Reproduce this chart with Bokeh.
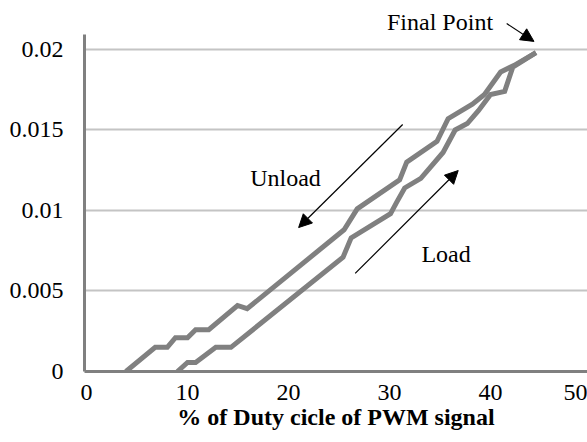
from bokeh.plotting import figure
from bokeh.models import Range1d, FixedTicker, CustomJSTickFormatter, Label, Arrow, NormalHead
from bokeh.embed import file_html
from bokeh.resources import INLINE

# ---- data ----
unload_x = [3.9, 6.8, 8.0, 8.8, 10.0, 10.8, 12.1, 14.95, 15.9, 25.5, 26.8, 31.0, 31.7, 34.7, 35.8, 38.2, 39.4, 41.0, 42.3, 44.5]
unload_y = [0.0, 0.0015, 0.0015, 0.0021, 0.0021, 0.0026, 0.0026, 0.0041, 0.0039, 0.0088, 0.0101, 0.0119, 0.0130, 0.0143, 0.0157, 0.0166, 0.0172, 0.0186, 0.0190, 0.0198]
load_x = [9.0, 10.0, 10.8, 12.8, 14.3, 25.4, 26.2, 30.1, 30.7, 31.5, 33.1, 35.3, 36.5, 37.7, 38.8, 40.0, 41.4, 42.2, 44.5]
load_y = [0.0, 0.00056, 0.00056, 0.0015, 0.0015, 0.0071, 0.0083, 0.0098, 0.0105, 0.0114, 0.0120, 0.0136, 0.0150, 0.0154, 0.0162, 0.0172, 0.0174, 0.0189, 0.0198]
x_ticks = [0, 10, 20, 30, 40]
x_last_tick_label = "50"
y_ticks = [0, 0.005, 0.01, 0.015, 0.02]
x_title = "% of Duty cicle of PWM signal"
unload_text = "Unload"
load_text = "Load"
final_text = "Final Point"

FONT = "Liberation Serif"
LINE_C = "#808080"

X_START, X_END = -0.2, 49.6      # the 50 tick sits just past the right edge
Y_AXIS_TOP = 0.02093
Y_END = 0.02304

p = figure(width=587, height=442, output_backend="svg", toolbar_location=None,
           x_range=Range1d(X_START, X_END), y_range=Range1d(0, Y_END),
           min_border_left=84, min_border_right=0, min_border_top=0, min_border_bottom=71)
p.outline_line_color = None
p.background_fill_color = "white"
p.border_fill_color = "white"

# axes
p.xaxis.ticker = FixedTicker(ticks=x_ticks + [X_END])
p.xaxis.major_label_overrides = {X_END: x_last_tick_label}
p.yaxis.ticker = FixedTicker(ticks=y_ticks)
p.yaxis.formatter = CustomJSTickFormatter(code="return tick.toString();")
p.yaxis.bounds = (0, Y_AXIS_TOP)
for ax in (p.xaxis, p.yaxis):
    ax.axis_line_color = LINE_C
    ax.axis_line_width = 3
    ax.major_tick_line_color = None
    ax.minor_tick_line_color = None
    ax.major_tick_out = 0
    ax.major_tick_in = 0
    ax.major_label_text_font = FONT
    ax.major_label_text_font_size = "24px"
    ax.major_label_text_color = "black"
p.yaxis.major_label_standoff = 21
p.xaxis.major_label_standoff = 13
p.xaxis.axis_label = x_title
p.xaxis.axis_label_text_font = FONT
p.xaxis.axis_label_text_font_style = "bold"
p.xaxis.axis_label_text_font_size = "24px"
p.xaxis.axis_label_text_color = "black"
p.xaxis.axis_label_standoff = 1

p.xgrid.grid_line_color = None
p.ygrid.ticker = FixedTicker(ticks=y_ticks)
p.ygrid.grid_line_color = "#c4c4c4"
p.ygrid.grid_line_width = 2

# curves
p.line(unload_x, unload_y, line_color=LINE_C, line_width=5, line_join="miter")
p.line(load_x, load_y, line_color=LINE_C, line_width=5, line_join="miter")

# annotations
def txt(x, y, t):
    p.add_layout(Label(x=x, y=y, text=t, text_align="center", text_baseline="middle",
                       text_font=FONT, text_font_size="24px", text_color="black"))

txt(19.7, 0.0120, unload_text)
txt(35.6, 0.0073, load_text)
txt(35.0, 0.0217, final_text)

def arrow(x0, y0, x1, y1):
    p.add_layout(Arrow(end=NormalHead(size=13, fill_color="black", line_color="black", line_width=1),
                       x_start=x0, y_start=y0, x_end=x1, y_end=y1,
                       line_color="black", line_width=1.2))

arrow(31.3, 0.01534, 21.0, 0.00894)
arrow(26.6, 0.00609, 36.8, 0.01248)
arrow(41.6, 0.02161, 44.3, 0.0205)

open("out.html", "w").write(file_html(p, INLINE))
